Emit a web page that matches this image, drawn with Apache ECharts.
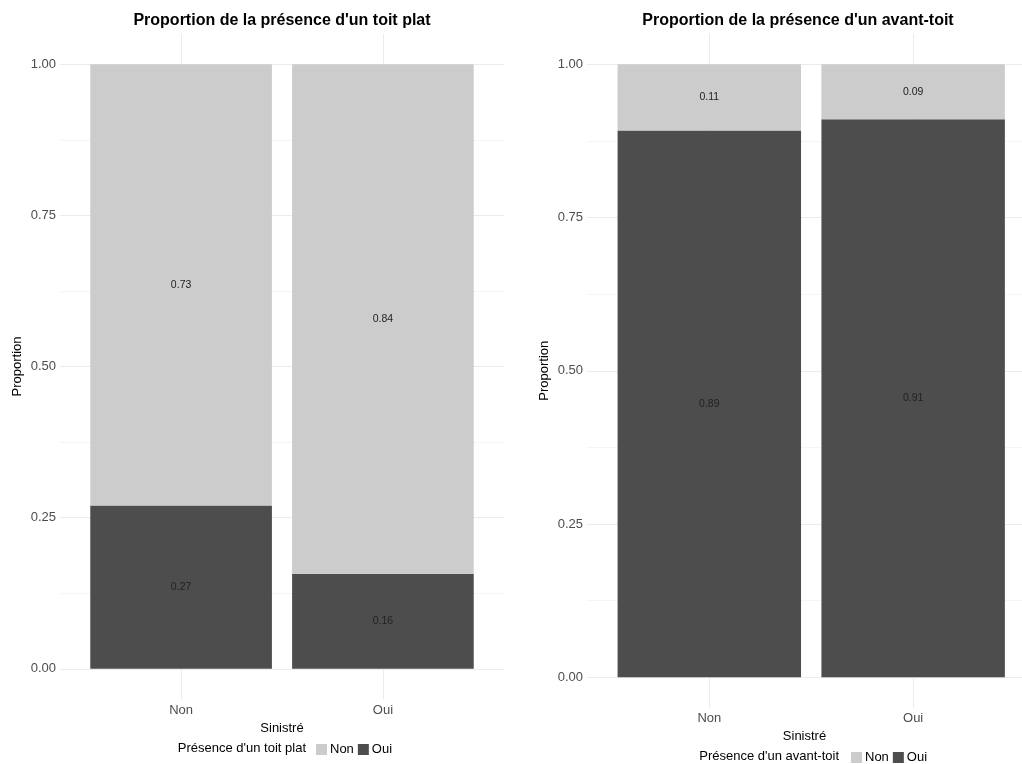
<!DOCTYPE html>
<html>
<head>
<meta charset="utf-8">
<script src="https://cdn.jsdelivr.net/npm/echarts@6/dist/echarts.min.js"></script>
<style>
html,body{margin:0;padding:0;background:#fff;}
#c{width:1022px;height:764px;}
</style>
</head>
<body>
<div id="c"></div>
<script>
// ---- data ----
const sinistreCats = ['Non', 'Oui'];
const fillCats = ['Non', 'Oui'];
// Panel 1: toit plat
const toitPlatNon = [0.73, 0.843];
const toitPlatOui = [0.27, 0.157];
// Panel 2: avant-toit
const avantToitNon = [0.108, 0.09];
const avantToitOui = [0.892, 0.91];
const yTicks = [0, 0.25, 0.5, 0.75, 1];
const yMinor = [0.125, 0.375, 0.625, 0.875];
const panelTitles = ["Proportion de la présence d'un toit plat", "Proportion de la présence d'un avant-toit"];
const legendTitles = ["Présence d'un toit plat", "Présence d'un avant-toit"];

const FONT = "'Liberation Sans', Arial, sans-serif";
const colNon = '#CCCCCC', colOui = '#4D4D4D';
const catPos = sinistreCats.map((c, i) => i + 1);

const grids = [
  {left: 60, top: 34, width: 444, height: 665},
  {left: 587, top: 33.5, width: 435, height: 674.5}
];
// the right panel is cut at the image edge
const xMax = [2.6, 2.534];

const xAxes = [], yAxes = [], series = [];
const panelData = [[toitPlatNon, toitPlatOui], [avantToitNon, avantToitOui]];
const xLabelMargin = [5, 4];
const xNameGap = [17, 18];

grids.forEach((g, i) => {
  xAxes.push({
    type: 'value', gridIndex: i, min: 0.4, max: xMax[i],
    name: 'Sinistré', nameLocation: 'middle', nameGap: xNameGap[i],
    nameTextStyle: {fontFamily: FONT, fontSize: 13, color: '#000'},
    axisLine: {show: false},
    axisTick: {show: false, customValues: catPos},
    axisLabel: {customValues: catPos, formatter: v => sinistreCats[Math.round(v) - 1],
      fontFamily: FONT, fontSize: 13, color: '#4D4D4D', margin: xLabelMargin[i]},
    splitLine: {show: true, lineStyle: {color: '#EBEBEB', width: 1}}
  });
  yAxes.push({
    type: 'value', gridIndex: i, min: -0.05, max: 1.05,
    name: 'Proportion', nameLocation: 'middle', nameGap: 36, nameRotate: 90,
    nameTextStyle: {fontFamily: FONT, fontSize: 13, color: '#000'},
    axisLine: {show: false},
    axisTick: {show: false, customValues: yTicks},
    axisLabel: {customValues: yTicks, formatter: v => v.toFixed(2),
      fontFamily: FONT, fontSize: 13, color: '#4D4D4D', margin: 4},
    splitLine: {show: true, lineStyle: {color: '#EBEBEB', width: 1}}
  });
  // minor grid axis
  yAxes.push({
    type: 'value', gridIndex: i, min: -0.05, max: 1.05,
    axisLine: {show: false},
    axisTick: {show: false, customValues: yMinor},
    axisLabel: {show: false, customValues: yMinor},
    splitLine: {show: true, lineStyle: {color: '#F5F5F5', width: 1}}
  });
  const [nonVals, ouiVals] = panelData[i];
  const lab = {show: true, position: 'inside', formatter: p => p.value[0].toFixed(2),
    fontFamily: FONT, fontSize: 10.5, color: '#222'};
  // value first so the stacked dimension is the y value
  series.push({
    name: 'Oui', type: 'bar', stack: 's' + i, xAxisIndex: i, yAxisIndex: i * 2,
    encode: {x: 1, y: 0},
    barWidth: '90%', itemStyle: {color: colOui}, label: lab,
    data: ouiVals.map((v, k) => [v, catPos[k]]), z: 3
  });
  series.push({
    name: 'Non', type: 'bar', stack: 's' + i, xAxisIndex: i, yAxisIndex: i * 2,
    encode: {x: 1, y: 0},
    barWidth: '90%', itemStyle: {color: colNon}, label: lab,
    data: nonVals.map((v, k) => [v, catPos[k]]), z: 3
  });
});

const chart = echarts.init(document.getElementById('c'), null, {renderer: 'canvas'});
chart.setOption({
  backgroundColor: '#fff',
  animation: false,
  title: [
    {text: panelTitles[0], left: 282, top: 13, textAlign: 'center', padding: 0,
     textStyle: {fontFamily: FONT, fontSize: 16, fontWeight: 'bold', color: '#000'}},
    {text: panelTitles[1], left: 798, top: 13, textAlign: 'center', padding: 0,
     textStyle: {fontFamily: FONT, fontSize: 16, fontWeight: 'bold', color: '#000'}},
    {text: legendTitles[0], right: 1022 - 306, top: 742, padding: 0,
     textStyle: {fontFamily: FONT, fontSize: 13, fontWeight: 'normal', color: '#000'}},
    {text: legendTitles[1], right: 1022 - 839, top: 750, padding: 0,
     textStyle: {fontFamily: FONT, fontSize: 13, fontWeight: 'normal', color: '#000'}}
  ],
  legend: [
    {data: fillCats, left: 316, top: 743, padding: 0, itemWidth: 11, itemHeight: 11, itemGap: 4,
     icon: 'rect', textStyle: {fontFamily: FONT, fontSize: 13, color: '#000', padding: [0,0,0,-2]}},
    {data: fillCats, left: 851, top: 751, padding: 0, itemWidth: 11, itemHeight: 11, itemGap: 4,
     icon: 'rect', textStyle: {fontFamily: FONT, fontSize: 13, color: '#000', padding: [0,0,0,-2]}}
  ],
  grid: grids,
  xAxis: xAxes,
  yAxis: yAxes,
  series: series
});
</script>
</body>
</html>
